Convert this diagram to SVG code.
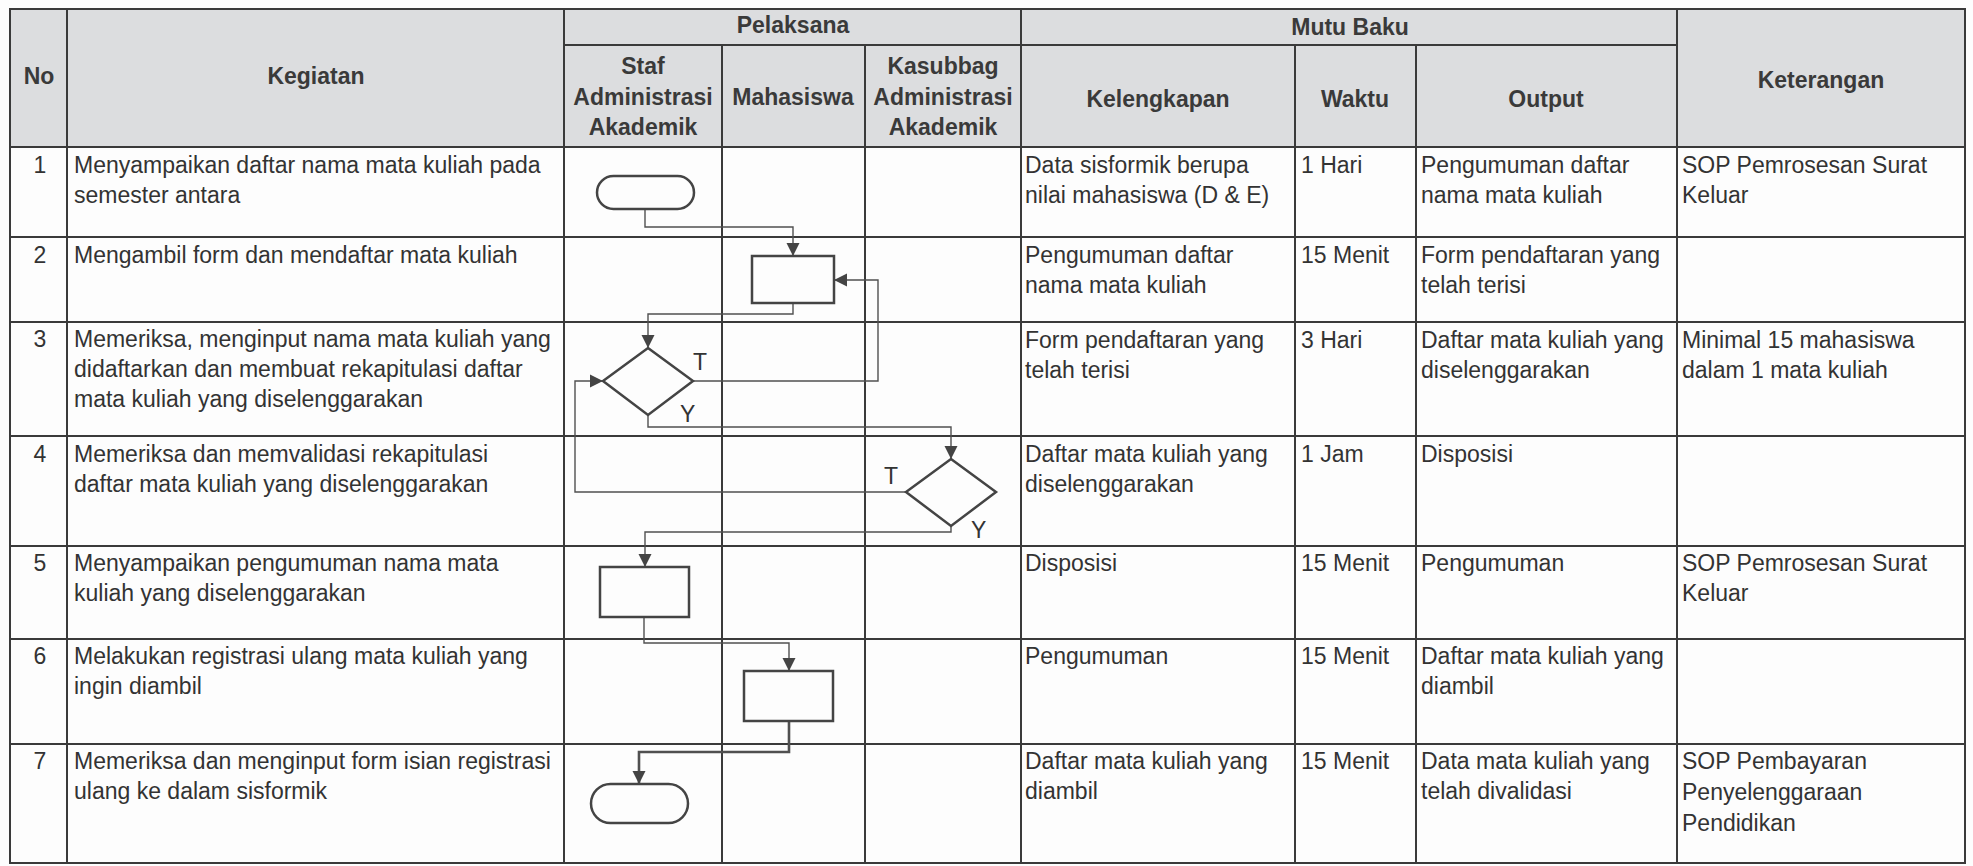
<svg xmlns="http://www.w3.org/2000/svg" width="1973" height="866" viewBox="0 0 1973 866">
<style>
.bg{fill:#fdfdfd}
.hdr{fill:#dcdddf}
.grid{stroke:#3a3a3a;stroke-width:2;fill:none}
.t{font-family:"Liberation Sans",Arial,sans-serif;font-size:23px;fill:#333}
.th{font-family:"Liberation Sans",Arial,sans-serif;font-size:23px;font-weight:bold;fill:#3a3a3a;text-anchor:middle}
.c{text-anchor:middle}
.shape{fill:none;stroke:#444;stroke-width:2.5}
.conn{fill:none;stroke:#505050;stroke-width:1.4}
.bold{stroke-width:2.6}
.lbl{font-family:"Liberation Sans",Arial,sans-serif;font-size:23px;fill:#333}
</style>
<defs>
<marker id="arr" markerUnits="userSpaceOnUse" markerWidth="14" markerHeight="14" refX="13" refY="7" orient="auto">
<path d="M0,0.5 L13,7 L0,13.5 z" fill="#444"/>
</marker>
</defs>
<rect class="bg" x="0" y="0" width="1973" height="866"/>
<g id="table">
<rect class="hdr" x="10" y="9" width="1955" height="138"/>
<rect class="grid" x="10" y="9" width="1955" height="854"/>
<line class="grid" x1="67" y1="9" x2="67" y2="863"/>
<line class="grid" x1="564" y1="9" x2="564" y2="863"/>
<line class="grid" x1="722" y1="45" x2="722" y2="863"/>
<line class="grid" x1="865" y1="45" x2="865" y2="863"/>
<line class="grid" x1="1021" y1="9" x2="1021" y2="863"/>
<line class="grid" x1="1295" y1="45" x2="1295" y2="863"/>
<line class="grid" x1="1416" y1="45" x2="1416" y2="863"/>
<line class="grid" x1="1677" y1="9" x2="1677" y2="863"/>
<line class="grid" x1="564" y1="45" x2="1677" y2="45"/>
<line class="grid" x1="10" y1="147" x2="1965" y2="147"/>
<line class="grid" x1="10" y1="237" x2="1965" y2="237"/>
<line class="grid" x1="10" y1="322" x2="1965" y2="322"/>
<line class="grid" x1="10" y1="436" x2="1965" y2="436"/>
<line class="grid" x1="10" y1="546" x2="1965" y2="546"/>
<line class="grid" x1="10" y1="639" x2="1965" y2="639"/>
<line class="grid" x1="10" y1="744" x2="1965" y2="744"/>
</g>
<g id="header">
<text class="th" x="39" y="84">No</text>
<text class="th" x="316" y="84">Kegiatan</text>
<text class="th" x="793" y="33">Pelaksana</text>
<text class="th" x="1350" y="35">Mutu Baku</text>
<text class="th" x="1821" y="88">Keterangan</text>
<text class="th" x="643" y="74">Staf</text>
<text class="th" x="643" y="105">Administrasi</text>
<text class="th" x="643" y="135">Akademik</text>
<text class="th" x="793" y="105">Mahasiswa</text>
<text class="th" x="943" y="74">Kasubbag</text>
<text class="th" x="943" y="105">Administrasi</text>
<text class="th" x="943" y="135">Akademik</text>
<text class="th" x="1158" y="107">Kelengkapan</text>
<text class="th" x="1355" y="107">Waktu</text>
<text class="th" x="1546" y="107">Output</text>
</g>
<g id="row1">
<text class="t c" x="40" y="173">1</text>
<text class="t" x="74" y="173">Menyampaikan daftar nama mata kuliah pada</text>
<text class="t" x="74" y="203">semester antara</text>
<text class="t" x="1025" y="173">Data sisformik berupa</text>
<text class="t" x="1025" y="203">nilai mahasiswa (D &amp; E)</text>
<text class="t" x="1301" y="173">1 Hari</text>
<text class="t" x="1421" y="173">Pengumuman daftar</text>
<text class="t" x="1421" y="203">nama mata kuliah</text>
<text class="t" x="1682" y="173">SOP Pemrosesan Surat</text>
<text class="t" x="1682" y="203">Keluar</text>
</g>
<g id="row2">
<text class="t c" x="40" y="263">2</text>
<text class="t" x="74" y="263">Mengambil form dan mendaftar mata kuliah</text>
<text class="t" x="1025" y="263">Pengumuman daftar</text>
<text class="t" x="1025" y="293">nama mata kuliah</text>
<text class="t" x="1301" y="263">15 Menit</text>
<text class="t" x="1421" y="263">Form pendaftaran yang</text>
<text class="t" x="1421" y="293">telah terisi</text>
</g>
<g id="row3">
<text class="t c" x="40" y="347">3</text>
<text class="t" x="74" y="347">Memeriksa, menginput nama mata kuliah yang</text>
<text class="t" x="74" y="377">didaftarkan dan membuat rekapitulasi daftar</text>
<text class="t" x="74" y="407">mata kuliah yang diselenggarakan</text>
<text class="t" x="1025" y="348">Form pendaftaran yang</text>
<text class="t" x="1025" y="378">telah terisi</text>
<text class="t" x="1301" y="348">3 Hari</text>
<text class="t" x="1421" y="348">Daftar mata kuliah yang</text>
<text class="t" x="1421" y="378">diselenggarakan</text>
<text class="t" x="1682" y="348">Minimal 15 mahasiswa</text>
<text class="t" x="1682" y="378">dalam 1 mata kuliah</text>
</g>
<g id="row4">
<text class="t c" x="40" y="462">4</text>
<text class="t" x="74" y="462">Memeriksa dan memvalidasi rekapitulasi</text>
<text class="t" x="74" y="492">daftar mata kuliah yang diselenggarakan</text>
<text class="t" x="1025" y="462">Daftar mata kuliah yang</text>
<text class="t" x="1025" y="492">diselenggarakan</text>
<text class="t" x="1301" y="462">1 Jam</text>
<text class="t" x="1421" y="462">Disposisi</text>
</g>
<g id="row5">
<text class="t c" x="40" y="571">5</text>
<text class="t" x="74" y="571">Menyampaikan pengumuman nama mata</text>
<text class="t" x="74" y="601">kuliah yang diselenggarakan</text>
<text class="t" x="1025" y="571">Disposisi</text>
<text class="t" x="1301" y="571">15 Menit</text>
<text class="t" x="1421" y="571">Pengumuman</text>
<text class="t" x="1682" y="571">SOP Pemrosesan Surat</text>
<text class="t" x="1682" y="601">Keluar</text>
</g>
<g id="row6">
<text class="t c" x="40" y="664">6</text>
<text class="t" x="74" y="664">Melakukan registrasi ulang mata kuliah yang</text>
<text class="t" x="74" y="694">ingin diambil</text>
<text class="t" x="1025" y="664">Pengumuman</text>
<text class="t" x="1301" y="664">15 Menit</text>
<text class="t" x="1421" y="664">Daftar mata kuliah yang</text>
<text class="t" x="1421" y="694">diambil</text>
</g>
<g id="row7">
<text class="t c" x="40" y="769">7</text>
<text class="t" x="74" y="769">Memeriksa dan menginput form isian registrasi</text>
<text class="t" x="74" y="799">ulang ke dalam sisformik</text>
<text class="t" x="1025" y="769">Daftar mata kuliah yang</text>
<text class="t" x="1025" y="799">diambil</text>
<text class="t" x="1301" y="769">15 Menit</text>
<text class="t" x="1421" y="769">Data mata kuliah yang</text>
<text class="t" x="1421" y="799">telah divalidasi</text>
<text class="t" x="1682" y="769">SOP Pembayaran</text>
<text class="t" x="1682" y="800">Penyelenggaraan</text>
<text class="t" x="1682" y="831">Pendidikan</text>
</g>
<g id="connectors">
<path class="conn" d="M645,209 V227 H793 V256" marker-end="url(#arr)"/>
<path class="conn" d="M693,381 H878 V280 H834" marker-end="url(#arr)"/>
<path class="conn" d="M793,303 V314 H648 V348" marker-end="url(#arr)"/>
<path class="conn" d="M648,415 V427 H951 V459" marker-end="url(#arr)"/>
<path class="conn" d="M906,492 H575 V381 H603" marker-end="url(#arr)"/>
<path class="conn" d="M951,526 V532 H645 V567" marker-end="url(#arr)"/>
<path class="conn" d="M644,617 V643 H789 V671" marker-end="url(#arr)"/>
<path class="conn bold" d="M789,721 V752 H639 V784" marker-end="url(#arr)"/>
</g>
<g id="n1-start"><rect class="shape" x="597" y="176" width="97" height="33" rx="16.5"/></g>
<g id="n2-process"><rect class="shape" x="752" y="256" width="82" height="47"/></g>
<g id="n3-decision"><polygon class="shape" points="648,348 693,381 648,415 603,381"/>
<text class="lbl" x="693" y="370">T</text><text class="lbl" x="680" y="422">Y</text></g>
<g id="n4-decision"><polygon class="shape" points="951,459 996,492 951,526 906,492"/>
<text class="lbl" x="884" y="484">T</text><text class="lbl" x="971" y="538">Y</text></g>
<g id="n5-process"><rect class="shape" x="600" y="567" width="89" height="50"/></g>
<g id="n6-process"><rect class="shape" x="744" y="671" width="89" height="50"/></g>
<g id="n7-end"><rect class="shape" x="591" y="784" width="97" height="39" rx="19.5"/></g>
</svg>
